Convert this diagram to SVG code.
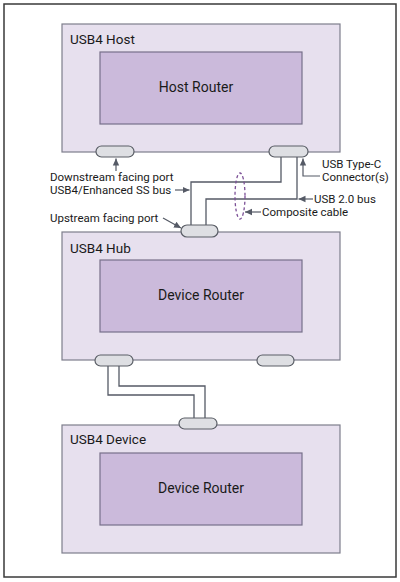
<svg xmlns="http://www.w3.org/2000/svg" width="400" height="582" viewBox="0 0 400 582">
<defs>
<style>
.frame{fill:#fff;stroke:#3a3a3a;stroke-width:1.5}
.outer{fill:#e7e0ee;stroke:#7e7e8c;stroke-width:1.2}
.inner{fill:#cbbadb;stroke:#77708a;stroke-width:1.2}
.port{fill:#dedfe3;stroke:#5a5e66;stroke-width:1.2}
.wire{fill:none;stroke:#555a66;stroke-width:1.3}
.ptr{fill:none;stroke:#555a66;stroke-width:1.2}
.t{font-family:Roboto,"Liberation Sans",sans-serif;fill:#1a1a1a}
.title{font-size:13.5px}
.center{font-size:14px;text-anchor:middle}
.lab{font-size:11.5px}
</style>
<marker id="ah" markerWidth="8" markerHeight="8" refX="7" refY="4" orient="auto" markerUnits="userSpaceOnUse">
<path d="M0,0.8 L7,4 L0,7.2 Z" fill="#555a66"/>
</marker>
</defs>
<rect class="frame" x="4" y="4" width="392" height="573"/>

<g id="host">
<rect class="outer" x="62" y="24" width="278" height="128"/>
<text class="t title" x="70" y="44">USB4 Host</text>
<rect class="inner" x="100" y="52" width="202" height="72"/>
<text class="t center" x="196" y="92">Host Router</text>
</g>

<g id="hub">
<rect class="outer" x="62" y="232" width="278" height="128"/>
<text class="t title" x="70" y="253">USB4 Hub</text>
<rect class="inner" x="100" y="260" width="202" height="72"/>
<text class="t center" x="201" y="300">Device Router</text>
</g>

<g id="device">
<rect class="outer" x="62" y="425" width="278" height="128"/>
<text class="t title" x="70" y="444">USB4 Device</text>
<rect class="inner" x="100" y="453" width="202" height="72"/>
<text class="t center" x="201" y="493">Device Router</text>
</g>

<g id="connectors">
<path class="wire" d="M281,157 V182 H191 V226"/>
<path class="wire" d="M297,157 V199 H206 V226"/>
<path class="wire" d="M108,366 V395 H194 V419"/>
<path class="wire" d="M119,366 V386 H205 V419"/>
<path class="ptr" d="M116,171 V158.5" marker-end="url(#ah)"/>
<path class="ptr" d="M175,190 H189.5" marker-end="url(#ah)"/>
<path class="ptr" d="M320,176 H303 V158.5" marker-end="url(#ah)"/>
<path class="ptr" d="M313,199 H298.5" marker-end="url(#ah)"/>
<path class="ptr" d="M261,212 H245" marker-end="url(#ah)"/>
<path class="ptr" d="M163,218 L181,228" marker-end="url(#ah)"/>
<ellipse cx="240" cy="196" rx="5" ry="23" fill="none" stroke="#7b4f96" stroke-width="1.3" stroke-dasharray="3,2.5"/>
</g>

<g id="ports">
<rect class="port" x="96" y="146" width="38" height="11" rx="5.5"/>
<rect class="port" x="269" y="146" width="39" height="11" rx="5.5"/>
<rect class="port" x="181" y="225" width="37" height="12" rx="6"/>
<rect class="port" x="95" y="355" width="38" height="11" rx="5.5"/>
<rect class="port" x="257" y="355" width="37" height="11" rx="5.5"/>
<rect class="port" x="179" y="418" width="38" height="11" rx="5.5"/>
</g>

<g id="labels">
<text class="t lab" x="50" y="181">Downstream facing port</text>
<text class="t lab" x="50" y="194">USB4/Enhanced SS bus</text>
<text class="t lab" x="322" y="168">USB Type-C</text>
<text class="t lab" x="322" y="181">Connector(s)</text>
<text class="t lab" x="314" y="203">USB 2.0 bus</text>
<text class="t lab" x="262" y="216">Composite cable</text>
<text class="t lab" x="50" y="222">Upstream facing port</text>
</g>
</svg>
